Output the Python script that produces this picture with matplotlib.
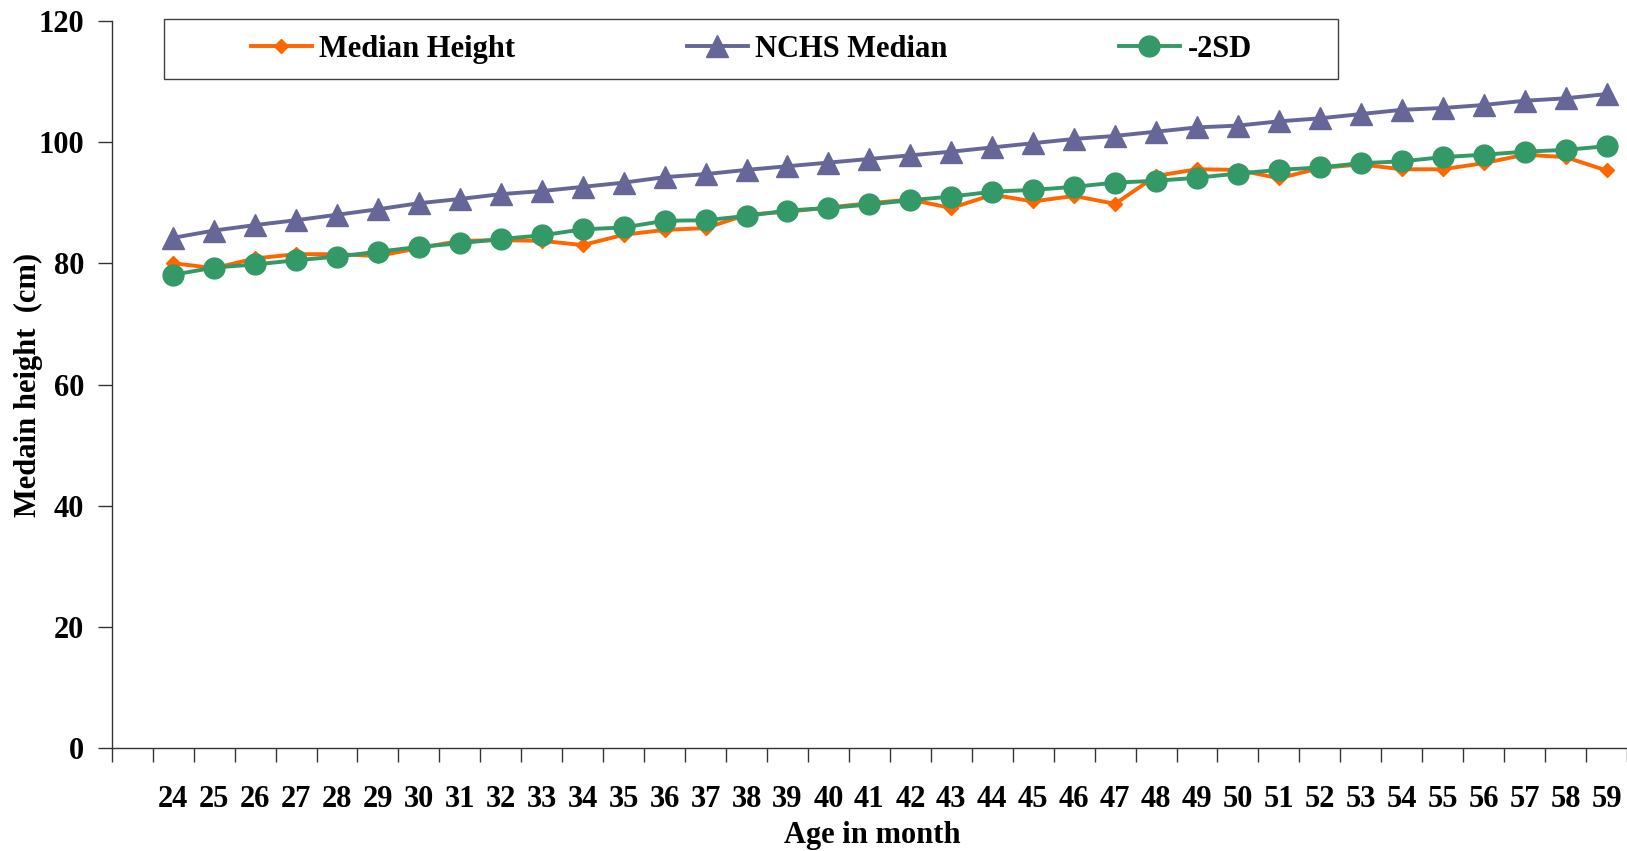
import numpy as np
import matplotlib
matplotlib.use("Agg")
import matplotlib.pyplot as plt
from matplotlib.patches import Rectangle

# data
ages = list(range(24, 60))
median_height = [80.0, 79.2, 80.8, 81.5, 81.5, 81.2, 82.5, 83.7, 83.8, 83.7,
                 83.0, 84.7, 85.5, 85.8, 88.0, 88.5, 89.2, 89.9, 90.5, 89.1,
                 91.3, 90.2, 91.1, 89.8, 94.4, 95.5, 95.4, 94.0, 95.7, 96.3,
                 95.5, 95.5, 96.5, 97.9, 97.5, 95.3]
nchs_median = [84.2, 85.4, 86.3, 87.1, 88.0, 88.9, 89.9, 90.6, 91.4, 91.9,
               92.6, 93.3, 94.2, 94.7, 95.4, 96.0, 96.6, 97.2, 97.8, 98.4,
               99.1, 99.8, 100.5, 101.0, 101.7, 102.4, 102.7, 103.4, 103.9, 104.6,
               105.3, 105.6, 106.1, 106.8, 107.2, 107.9]
minus_2sd = [78.1, 79.3, 79.8, 80.5, 81.1, 81.9, 82.7, 83.3, 84.0, 84.6,
             85.6, 85.9, 87.0, 87.1, 87.8, 88.7, 89.1, 89.7, 90.4, 91.0,
             91.8, 92.1, 92.6, 93.3, 93.6, 94.1, 94.8, 95.4, 95.8, 96.5,
             96.8, 97.5, 97.9, 98.4, 98.7, 99.3]

plt.rcParams["font.family"] = ["Liberation Serif", "DejaVu Serif"]
plt.rcParams["font.weight"] = "bold"

fig = plt.figure(figsize=(16.27, 8.51), dpi=100)
ax = fig.add_axes([0.0687, 0.1205, 0.9313, 0.8552])

x = np.arange(len(ages))
ax.plot(x, median_height, color="#FF6600", lw=2.8, marker="D", ms=7,
        label="Median Height", zorder=3)
ax.plot(x, nchs_median, color="#666699", lw=2.8, marker="^", ms=16,
        label="NCHS Median", zorder=4)
ax.plot(x, minus_2sd, color="#339966", lw=2.8, marker="o", ms=15,
        label="-2SD", zorder=5)

ax.set_xlim(-1.5, 35.5)
ax.set_ylim(0, 120)
ax.set_yticks([0, 20, 40, 60, 80, 100, 120])
ax.set_xticks(x)
ax.set_xticklabels([str(a) for a in ages])
ax.set_xticks(np.arange(-1.5, 35.6, 1), minor=True)

ax.tick_params(axis="x", which="major", length=0, pad=26, labelsize=22)
ax.tick_params(axis="x", which="minor", length=10, width=1, color="#333333")
ax.tick_params(axis="y", length=10, width=1, color="#333333", pad=10, labelsize=22)

for s in ["top", "right"]:
    ax.spines[s].set_visible(False)
for s in ["left", "bottom"]:
    ax.spines[s].set_color("#333333")
    ax.spines[s].set_linewidth(1)

ax.set_xlabel("Age in month", fontsize=22, fontweight="bold", va="center")
ax.xaxis.set_label_coords(0.5018, -0.12)
ax.set_ylabel("Medain height  (cm)", fontsize=22, fontweight="bold", va="center")
ax.yaxis.set_label_coords(-0.0552, 0.5)

# legend box drawn separately, entries centred inside it
box = Rectangle((0.0345, 0.92), 0.775, 0.082, transform=ax.transAxes,
                fill=False, edgecolor="#404040", lw=1, clip_on=False, zorder=6)
ax.add_patch(box)
leg = ax.legend(loc="center", bbox_to_anchor=(0.0345 + 0.775 / 2, 0.961),
                ncol=3, frameon=False, fontsize=22, handlelength=2.0,
                handletextpad=0.25, columnspacing=5.6, borderaxespad=0,
                borderpad=0)

fig.savefig("out.png", dpi=100)
